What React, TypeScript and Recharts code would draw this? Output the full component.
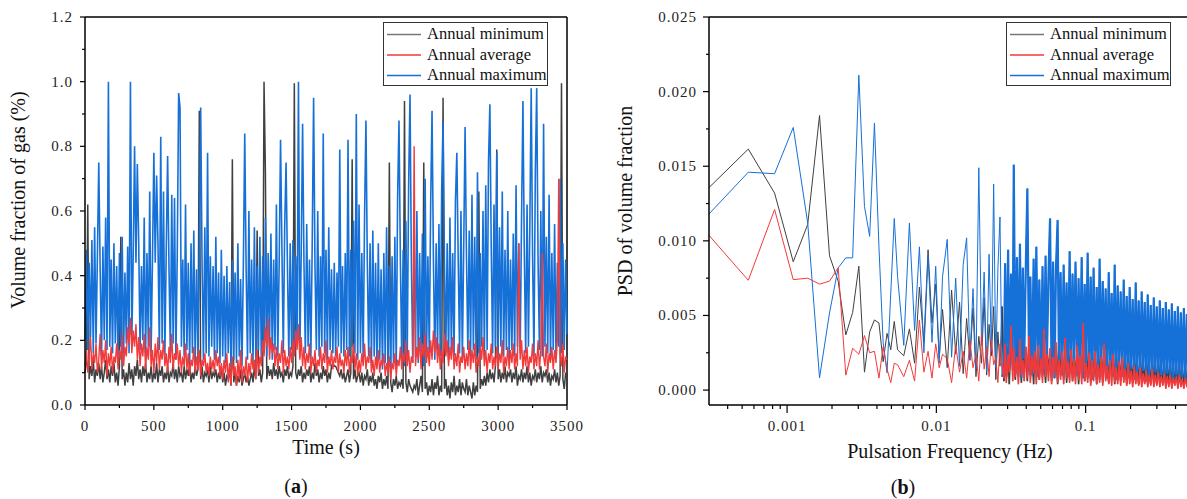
import React from "react";
import { LineChart, Line, XAxis, YAxis, ReferenceLine } from "recharts";

const FONT = '"Liberation Serif", "Times New Roman", serif';
const C_MIN = "#404040";
const C_AVG = "#f23a3a";
const C_MAX = "#1570d8";
const LEGEND_MIN = "#777777";

// ---------- Panel (a): volume fraction of gas vs time ----------
const TIME_STEP_S = 10;

const GAS_MAX = [
  0.2,0.48,0.17,0.44,0.21,0.51,0.16,0.55,0.19,0.46,
  0.75,0.42,0.15,0.49,0.2,0.58,0.17,1.0,0.18,0.45,
  0.16,0.5,0.19,0.43,0.14,0.47,0.18,0.52,0.15,0.41,
  0.19,0.49,0.16,1.0,0.2,0.46,0.8,0.44,0.745,0.5,
  0.17,0.43,0.2,0.58,0.15,0.47,0.18,0.66,0.16,0.45,
  0.78,0.44,0.71,0.5,0.17,0.83,0.19,0.66,0.15,0.48,
  0.77,0.42,0.16,0.65,0.19,0.64,0.14,0.47,0.965,0.92,
  0.18,0.45,0.15,0.62,0.17,0.44,0.13,0.5,0.16,0.54,
  0.13,0.42,0.17,0.47,0.92,0.44,0.14,0.55,0.16,0.78,
  0.15,0.46,0.18,0.43,0.14,0.52,0.16,0.41,0.13,0.48,
  0.15,0.4,0.13,0.43,0.16,0.38,0.12,0.45,0.14,0.41,
  0.13,0.5,0.15,0.39,0.12,0.44,0.84,0.42,0.14,0.6,
  0.16,0.45,0.13,0.55,0.15,0.43,0.17,0.52,0.14,0.46,
  0.16,0.58,0.15,0.47,0.18,0.53,0.14,0.45,0.17,0.62,
  0.15,0.44,0.82,0.48,0.16,0.55,0.75,0.43,0.15,0.5,
  0.17,0.51,0.16,0.46,0.19,1.0,0.15,0.47,0.87,0.44,
  0.16,0.56,0.18,0.45,0.14,0.5,0.95,0.43,0.17,0.6,
  0.15,0.46,0.18,0.84,0.16,0.48,0.14,0.55,0.17,0.42,
  0.16,0.44,0.15,0.41,0.18,0.79,0.16,0.43,0.15,0.47,
  0.17,0.82,0.15,0.48,0.18,0.57,0.16,0.9,0.14,0.62,
  0.16,0.47,0.14,0.58,0.88,0.44,0.15,0.5,0.13,0.54,
  0.15,0.44,0.12,0.5,0.14,0.42,0.11,0.47,0.13,0.55,
  0.12,0.43,0.1,0.46,0.13,0.52,0.11,0.64,0.88,0.45,
  0.14,0.48,0.12,0.57,0.15,0.68,0.96,0.44,0.13,0.5,
  0.15,0.6,0.13,0.47,0.16,0.53,0.12,0.7,0.15,0.46,
  0.16,0.62,0.91,0.45,0.14,0.5,0.17,0.56,0.15,0.67,
  0.875,0.44,0.16,0.5,0.14,0.58,0.17,0.47,0.15,0.63,
  0.78,0.45,0.16,0.6,0.14,0.49,0.86,0.46,0.17,0.54,
  0.15,0.65,0.17,0.52,0.14,0.72,0.16,0.47,0.18,0.6,
  0.15,0.68,0.17,0.75,0.93,0.48,0.16,0.62,0.18,0.78,
  0.16,0.55,0.18,0.66,0.15,0.48,0.17,0.6,0.14,0.45,
  0.17,0.53,0.15,0.68,0.18,0.5,0.16,0.58,0.94,0.47,
  0.16,0.62,0.18,0.55,0.98,0.46,0.15,0.72,0.98,0.44,
  0.17,0.6,0.15,0.87,0.18,0.52,0.16,0.65,0.14,0.47,
  0.17,0.56,0.15,0.44,0.18,0.7,0.16,0.5,0.17,0.45,
  0.22,
];

const GAS_AVG = [
  0.12,0.17,0.1,0.15,0.21,0.11,0.16,0.13,0.19,0.1,
  0.14,0.22,0.11,0.17,0.13,0.2,0.09,0.16,0.12,0.18,
  0.1,0.15,0.13,0.19,0.11,0.17,0.14,0.22,0.12,0.18,
  0.15,0.24,0.19,0.27,0.16,0.23,0.18,0.25,0.14,0.21,
  0.12,0.19,0.15,0.22,0.11,0.18,0.14,0.24,0.12,0.17,
  0.1,0.19,0.13,0.21,0.11,0.17,0.14,0.2,0.12,0.16,
  0.1,0.18,0.13,0.22,0.11,0.16,0.14,0.19,0.12,0.17,
  0.1,0.15,0.12,0.19,0.11,0.16,0.09,0.14,0.12,0.18,
  0.1,0.15,0.11,0.17,0.09,0.14,0.12,0.16,0.1,0.13,
  0.09,0.15,0.11,0.14,0.1,0.17,0.12,0.15,0.09,0.13,
  0.08,0.14,0.1,0.16,0.07,0.13,0.06,0.15,0.09,0.12,
  0.06,0.14,0.08,0.17,0.07,0.12,0.09,0.15,0.07,0.13,
  0.09,0.16,0.11,0.14,0.08,0.17,0.1,0.15,0.12,0.2,
  0.15,0.24,0.18,0.27,0.14,0.21,0.16,0.19,0.12,0.18,
  0.11,0.16,0.13,0.2,0.1,0.17,0.12,0.15,0.11,0.18,
  0.13,0.2,0.15,0.23,0.17,0.25,0.14,0.21,0.12,0.18,
  0.11,0.16,0.13,0.19,0.1,0.15,0.12,0.17,0.1,0.14,
  0.12,0.18,0.11,0.16,0.13,0.2,0.1,0.15,0.12,0.17,
  0.11,0.15,0.13,0.18,0.1,0.16,0.12,0.14,0.1,0.17,
  0.12,0.18,0.1,0.15,0.13,0.19,0.11,0.16,0.09,0.14,
  0.1,0.16,0.12,0.19,0.11,0.15,0.13,0.18,0.1,0.14,
  0.09,0.15,0.11,0.17,0.1,0.14,0.12,0.16,0.09,0.13,
  0.1,0.15,0.08,0.13,0.11,0.16,0.09,0.14,0.12,0.18,
  0.11,0.16,0.13,0.2,0.12,0.17,0.1,0.15,0.13,0.8,
  0.12,0.18,0.14,0.21,0.11,0.19,0.15,0.22,0.13,0.18,
  0.12,0.2,0.14,0.23,0.16,0.21,0.13,0.19,0.11,0.17,
  0.13,0.22,0.15,0.2,0.12,0.18,0.14,0.21,0.11,0.16,
  0.12,0.19,0.1,0.15,0.13,0.18,0.11,0.16,0.12,0.2,
  0.11,0.17,0.13,0.19,0.1,0.15,0.12,0.18,0.14,0.21,
  0.12,0.17,0.1,0.16,0.13,0.19,0.11,0.15,0.12,0.18,
  0.11,0.16,0.13,0.2,0.1,0.15,0.12,0.18,0.11,0.17,
  0.13,0.19,0.11,0.16,0.12,0.5,0.14,0.2,0.11,0.17,
  0.12,0.18,0.1,0.15,0.13,0.19,0.11,0.16,0.12,0.2,
  0.11,0.17,0.47,0.15,0.12,0.19,0.1,0.16,0.13,0.18,
  0.11,0.17,0.13,0.2,0.7,0.16,0.12,0.19,0.1,0.15,
  0.14,
];

const GAS_MIN = [
  0.1,0.13,0.62,0.08,0.12,0.09,0.14,0.07,0.11,0.09,
  0.13,0.08,0.12,0.07,0.1,0.14,0.08,0.11,0.07,0.12,
  0.09,0.13,0.07,0.1,0.06,0.12,0.52,0.08,0.11,0.06,
  0.1,0.07,0.13,0.08,0.11,0.06,0.12,0.09,0.14,0.08,
  0.11,0.07,0.12,0.09,0.13,0.07,0.1,0.08,0.12,0.07,
  0.1,0.08,0.13,0.07,0.11,0.09,0.12,0.07,0.1,0.08,
  0.12,0.07,0.1,0.09,0.13,0.08,0.11,0.07,0.12,0.09,
  0.1,0.07,0.12,0.08,0.11,0.09,0.13,0.07,0.1,0.08,
  0.12,0.09,0.11,0.91,0.08,0.12,0.07,0.1,0.09,0.11,
  0.07,0.12,0.08,0.1,0.09,0.11,0.07,0.1,0.08,0.12,
  0.07,0.1,0.06,0.09,0.08,0.11,0.06,0.76,0.07,0.1,
  0.06,0.09,0.07,0.11,0.06,0.08,0.1,0.07,0.09,0.06,
  0.08,0.1,0.07,0.12,0.08,0.54,0.09,0.11,0.07,0.1,
  1.0,0.72,0.08,0.12,0.09,0.11,0.08,0.13,0.09,0.11,
  0.08,0.12,0.09,0.1,0.07,0.11,0.09,0.12,0.08,0.1,
  0.09,0.12,0.995,0.1,0.08,0.11,0.09,0.12,0.07,0.1,
  0.08,0.11,0.09,0.12,0.07,0.1,0.08,0.13,0.09,0.11,
  0.07,0.1,0.08,0.12,0.09,0.11,0.07,0.1,0.08,0.12,
  0.13,0.12,0.12,0.11,0.1,0.09,0.11,0.08,0.1,0.07,
  0.09,0.11,0.07,0.1,0.76,0.08,0.11,0.07,0.09,0.1,
  0.07,0.1,0.06,0.09,0.08,0.11,0.06,0.09,0.07,0.1,
  0.06,0.08,0.05,0.09,0.07,0.1,0.05,0.08,0.06,0.09,
  0.05,0.75,0.07,0.04,0.08,0.06,0.09,0.05,0.07,0.06,
  0.08,0.05,0.94,0.07,0.04,0.08,0.06,0.05,0.04,0.06,
  0.05,0.08,0.03,0.06,0.09,0.04,0.75,0.05,0.07,0.03,
  0.06,0.04,0.08,0.03,0.07,0.05,0.09,0.03,0.06,0.04,
  0.95,0.05,0.08,0.03,0.06,0.02,0.07,0.04,0.09,0.03,
  0.06,0.04,0.08,0.03,0.07,0.05,0.04,0.08,0.03,0.06,
  0.04,0.02,0.07,0.03,0.06,0.04,0.66,0.05,0.08,0.06,
  0.09,0.06,0.1,0.07,0.11,0.08,0.1,0.07,0.12,0.79,
  0.08,0.11,0.07,0.1,0.08,0.12,0.07,0.1,0.09,0.11,
  0.07,0.1,0.08,0.12,0.06,0.09,0.08,0.11,0.07,0.1,
  0.08,0.12,0.07,0.1,0.06,0.09,0.08,0.11,0.07,0.1,
  0.08,0.12,0.07,0.1,0.09,0.11,0.07,0.1,0.06,0.09,
  0.08,0.11,0.07,0.1,0.06,0.09,0.995,0.08,0.05,0.1,
  0.08,
];

const TIME_TICKS = [0,250,500,750,1000,1250,1500,1750,2000,2250,2500,2750,3000,3250,3500];
const GAS_TICKS = [0,0.1,0.2,0.3,0.4,0.5,0.6,0.7,0.8,0.9,1.0,1.1,1.2];

// ---------- Panel (b): PSD vs pulsation frequency ----------
const FREQ_STEP_HZ = 0.000275;
const DENSE_FROM_HARMONIC = 100;
const HARMONICS = [
  1,2,3,4,5,6,7,8,9,10,11,12,13,14,15,16,17,18,19,20,
  22,24,26,28,30,32,34,36,38,40,
  43,46,49,52,55,58,61,64,67,70,73,76,79,82,85,88,91,94,97,100,
  103,105,107,110,112,115,118,120,123,126,
  129,132,135,138,141,145,148,152,155,159,
  163,166,170,174,178,183,187,191,196,200,
  205,210,215,220,225,230,236,241,247,253,
  259,265,271,277,284,290,297,304,311,319,
  326,334,342,350,358,366,375,384,393,402,
  411,421,431,441,451,462,473,484,495,507,
  519,531,543,556,569,582,596,610,624,639,
  654,669,685,701,717,734,751,769,787,805,
  824,844,863,884,904,926,947,970,992,1016,
  1040,1064,1089,1115,1141,1168,1195,1223,1252,1281,
  1311,1342,1374,1406,1439,1473,1508,1543,1579,1616,
  1654,1693,1733,1774,1816,
];

// PSD values in units of 1e-3
const PSD_MAX_E3 = [
  11.4,14.6,14.5,17.6,11.2,0.82,5.17,8.19,8.86,8.86,21.1,12.3,10.3,17.9,9.6,3.2,1.16,6.5,11.5,7.6,
  3.0,11.2,4.0,9.6,2.5,9.0,3.2,8.3,1.8,7.6,
  10.1,2.2,7.5,1.6,8.4,10.2,2.0,6.8,1.4,14.9,3.0,7.9,1.2,9.1,2.6,13.8,1.5,8.2,11.6,0.9,
  1.2,8.5,0.9,9.4,1.5,7.8,2.0,15.1,1.1,8.9,
  1.6,9.8,0.8,8.2,2.1,9.1,13.5,1.3,7.6,1.0,
  8.8,1.9,9.6,0.9,7.4,1.4,8.3,1.1,9.0,2.0,
  7.7,11.5,1.2,8.6,0.8,8.1,11.4,1.5,7.9,1.0,
  8.4,1.6,7.2,0.9,9.3,1.3,7.8,2.0,8.6,1.0,
  7.5,1.4,8.9,0.8,7.1,1.7,9.2,1.1,7.6,0.7,
  8.2,1.5,6.9,0.9,8.8,1.2,7.3,1.8,6.8,0.8,
  7.9,1.3,6.5,1.0,8.4,0.7,7.0,1.6,6.6,0.9,
  7.4,1.2,6.3,0.8,6.9,1.4,6.1,0.7,7.2,1.1,
  6.0,0.9,6.6,1.3,5.9,0.6,6.4,1.0,5.7,0.8,
  6.2,1.2,5.6,0.7,6.0,1.0,5.5,0.6,5.9,1.1,
  5.4,0.8,5.8,0.6,5.3,1.0,5.6,0.5,5.2,0.9,
  5.5,0.7,5.1,0.6,5.4,
];

const PSD_MIN_E3 = [
  13.2,16.15,13.2,8.6,11.1,18.4,9.0,7.3,3.7,5.2,8.3,1.2,3.9,4.7,4.5,1.9,3.8,2.7,4.6,2.7,
  2.3,4.1,1.8,6.9,3.2,9.4,4.5,7.1,2.1,5.4,
  1.5,6.7,2.4,5.9,1.1,4.8,2.0,5.5,0.9,3.6,1.8,6.2,1.0,4.4,2.3,5.6,0.7,3.9,1.6,5.6,
  0.6,3.8,1.0,2.9,0.4,4.2,1.3,2.5,0.7,3.6,
  0.9,2.7,0.5,3.9,1.2,2.4,0.6,3.3,1.0,2.8,
  0.4,3.5,1.1,2.2,0.7,3.8,0.9,2.6,0.5,3.1,
  1.2,2.4,0.6,3.4,0.8,2.9,0.4,3.7,1.0,2.3,
  0.7,3.2,0.5,2.6,1.1,3.5,0.6,2.2,0.9,3.0,
  0.4,2.8,1.0,2.3,0.6,3.3,0.8,2.5,0.5,2.9,
  0.9,2.2,0.4,3.1,0.7,2.6,0.5,2.9,0.8,2.1,
  0.5,2.7,0.9,2.3,0.4,2.8,0.7,2.0,0.6,2.5,
  0.8,2.2,0.4,2.6,0.7,1.9,0.5,2.4,0.9,2.0,
  0.4,2.3,0.7,1.8,0.5,2.2,0.8,1.7,0.4,2.1,
  0.6,1.9,0.4,2.0,0.7,1.6,0.5,1.9,0.3,1.7,
  0.6,1.8,0.4,1.5,0.5,1.7,0.3,1.6,0.6,1.4,
  0.4,1.5,0.5,1.3,0.4,
];

const PSD_AVG_E3 = [
  10.8,7.36,12.1,7.4,7.5,7.1,7.3,8.2,1.0,2.8,2.4,3.65,2.5,2.6,0.8,2.9,1.4,0.5,1.8,1.7,
  0.9,2.0,0.6,4.7,1.2,2.6,0.8,3.1,1.5,2.4,
  2.1,0.5,3.0,1.2,2.6,0.8,3.3,1.5,2.4,0.6,3.8,1.4,2.9,0.9,3.4,1.7,2.2,0.5,3.1,1.8,
  0.8,3.1,0.5,2.4,1.2,4.3,0.6,2.8,0.9,2.2,
  0.4,3.4,1.0,2.0,0.6,2.9,0.8,3.6,0.5,2.3,
  1.1,2.6,0.4,3.0,0.7,2.1,0.5,4.1,0.9,2.4,
  0.6,2.8,0.4,2.2,1.0,3.2,0.5,2.0,0.7,2.6,
  0.4,3.5,0.8,1.9,0.5,2.7,0.6,2.1,0.4,3.0,
  0.7,2.3,0.4,4.5,0.6,1.8,0.5,2.5,0.3,2.0,
  0.6,2.6,0.4,1.7,0.5,2.2,0.3,3.1,0.6,1.6,
  0.4,2.0,0.3,2.4,0.5,1.5,0.4,1.9,0.3,2.2,
  0.5,1.4,0.3,1.8,0.4,1.3,0.2,1.6,0.4,1.2,
  0.3,1.5,0.2,1.1,0.4,1.3,0.2,1.0,0.3,1.4,
  0.2,1.0,0.3,1.2,0.2,0.9,0.3,1.1,0.1,0.9,
  0.2,1.0,0.1,0.8,0.3,0.9,0.1,1.0,0.2,0.7,
  0.1,0.8,0.2,0.6,0.1,
];

const FREQ_TICKS = [
  0.0004,0.0005,0.0006,0.0007,0.0008,0.0009,0.001,
  0.002,0.003,0.004,0.005,0.006,0.007,0.008,0.009,0.01,
  0.02,0.03,0.04,0.05,0.06,0.07,0.08,0.09,0.1,
  0.2,0.3,0.4,0.5,
];
const PSD_TICKS = [0,0.0025,0.005,0.0075,0.01,0.0125,0.015,0.0175,0.02,0.0225,0.025];

const LEGEND_ITEMS = [
  { name: "Annual minimum", color: LEGEND_MIN },
  { name: "Annual average", color: C_AVG },
  { name: "Annual maximum", color: C_MAX },
];

// ---------- tables built from the arrays ----------
const gasRows = GAS_MAX.map((_, i) => ({
  t: i * TIME_STEP_S,
  min: GAS_MIN[i],
  avg: GAS_AVG[i],
  max: GAS_MAX[i],
}));

const psdRows = HARMONICS.map((k, i) => {
  const dense = k >= DENSE_FROM_HARMONIC;
  return {
    f: k * FREQ_STEP_HZ,
    min: PSD_MIN_E3[i] / 1000,
    avg: PSD_AVG_E3[i] / 1000,
    max: PSD_MAX_E3[i] / 1000,
    minDense: dense ? PSD_MIN_E3[i] / 1000 : null,
    avgDense: dense ? PSD_AVG_E3[i] / 1000 : null,
    maxDense: dense ? PSD_MAX_E3[i] / 1000 : null,
  };
});

// ---------- ticks ----------
const tickTextStyle: React.CSSProperties = {
  fontFamily: FONT,
  fontSize: 15,
  letterSpacing: 1,
};

function TimeTick(props: any) {
  const { x, y, payload } = props;
  const v = payload.value;
  const major = v % 500 === 0;
  return (
    <g>
      <line x1={x} y1={y} x2={x} y2={y + (major ? 5 : 3)} stroke="#000" strokeWidth={1.2} />
      {major && (
        <text x={x} y={y + 26} textAnchor="middle" fill="#222" fontFamily={FONT} style={tickTextStyle}>
          {v}
        </text>
      )}
    </g>
  );
}

function GasTick(props: any) {
  const { x, y, payload } = props;
  const v = payload.value;
  const major = Math.round(v * 10) % 2 === 0;
  return (
    <g>
      <line x1={x - (major ? 5 : 3)} y1={y} x2={x} y2={y} stroke="#000" strokeWidth={1.2} />
      {major && (
        <text x={x - 12} y={y + 5} textAnchor="end" fill="#222" fontFamily={FONT} style={tickTextStyle}>
          {v.toFixed(1)}
        </text>
      )}
    </g>
  );
}

function PsdTick(props: any) {
  const { x, y, payload } = props;
  const v = payload.value;
  const major = Math.round(v * 10000) % 50 === 0;
  return (
    <g>
      <line x1={x - (major ? 6 : 3)} y1={y} x2={x} y2={y} stroke="#000" strokeWidth={1.2} />
      {major && (
        <text x={x - 12} y={y + 5} textAnchor="end" fill="#222" fontFamily={FONT} style={tickTextStyle}>
          {v.toFixed(3)}
        </text>
      )}
    </g>
  );
}

function FreqTick(props: any) {
  const { x, y, payload } = props;
  const v = payload.value;
  const lg = Math.log10(v);
  const major = Math.abs(lg - Math.round(lg)) < 1e-6;
  return (
    <g>
      <line x1={x} y1={y} x2={x} y2={y + (major ? 8 : 4)} stroke="#000" strokeWidth={1.2} />
      {major && (
        <text x={x} y={y + 26} textAnchor="middle" fill="#222" fontFamily={FONT} style={tickTextStyle}>
          {String(v)}
        </text>
      )}
    </g>
  );
}

// ---------- html text helpers ----------
function VTitle({ cx, cy, text }: { cx: number; cy: number; text: string }) {
  return (
    <div
      style={{
        position: "absolute",
        left: cx - 160,
        top: cy - 12,
        width: 320,
        height: 24,
        lineHeight: "24px",
        textAlign: "center",
        transform: "rotate(-90deg)",
        fontFamily: FONT,
        fontSize: 20,
        color: "#111",
        whiteSpace: "nowrap",
      }}
    >
      {text}
    </div>
  );
}

function HTitle({ cx, cy, children }: { cx: number; cy: number; children: React.ReactNode }) {
  return (
    <div
      style={{
        position: "absolute",
        left: cx - 160,
        top: cy - 12,
        width: 320,
        height: 24,
        lineHeight: "24px",
        textAlign: "center",
        fontFamily: FONT,
        fontSize: 20,
        color: "#111",
        whiteSpace: "nowrap",
      }}
    >
      {children}
    </div>
  );
}

function LegendBox({ left }: { left: number }) {
  return (
    <div
      style={{
        position: "absolute",
        left,
        top: 22,
        width: 165,
        height: 64,
        boxSizing: "border-box",
        border: "1px solid #333",
        background: "#fff",
        fontFamily: FONT,
        fontSize: 16.5,
        color: "#111",
      }}
    >
      <svg width={40} height={62} style={{ position: "absolute", left: 0, top: 0 }}>
        {LEGEND_ITEMS.map((it, i) => (
          <line
            key={it.name}
            x1={3}
            x2={37}
            y1={11.5 + i * 20.5}
            y2={11.5 + i * 20.5}
            stroke={it.color}
            strokeWidth={1.3}
          />
        ))}
      </svg>
      {LEGEND_ITEMS.map((it, i) => (
        <div
          key={it.name}
          style={{
            position: "absolute",
            left: 43,
            top: 1 + i * 20.5,
            lineHeight: "20px",
            whiteSpace: "nowrap",
          }}
        >
          {it.name}
        </div>
      ))}
    </div>
  );
}

const axisLine = { stroke: "#000", strokeWidth: 1.5 };

export default function App() {
  return (
    <div
      style={{
        position: "absolute",
        left: 0,
        top: 0,
        width: 1187,
        height: 499,
        overflow: "hidden",
        background: "#fff",
      }}
    >
      {/* Panel (a) */}
      <div style={{ position: "absolute", left: 0, top: 0 }}>
        <LineChart
          width={600}
          height={499}
          data={gasRows}
          margin={{ top: 17, right: 33, bottom: 0, left: 0 }}
        >
          <XAxis
            dataKey="t"
            type="number"
            domain={[0, 3500]}
            ticks={TIME_TICKS}
            interval={0}
            height={94}
            tickSize={0}
            tickMargin={0}
            tickLine={false}
            axisLine={axisLine}
            tick={<TimeTick />}
          />
          <YAxis
            type="number"
            domain={[0, 1.2]}
            ticks={GAS_TICKS}
            interval={0}
            width={85}
            tickSize={0}
            tickMargin={0}
            tickLine={false}
            axisLine={axisLine}
            tick={<GasTick />}
          />
          <ReferenceLine y={1.2} stroke="#000" strokeWidth={1.5} />
          <ReferenceLine x={3500} stroke="#000" strokeWidth={1.5} />
          <Line type="linear" dataKey="min" stroke={C_MIN} strokeWidth={1.5} dot={false} isAnimationActive={false} />
          <Line type="linear" dataKey="max" stroke={C_MAX} strokeWidth={1.6} dot={false} isAnimationActive={false} />
          <Line type="linear" dataKey="avg" stroke={C_AVG} strokeWidth={1.4} dot={false} isAnimationActive={false} />
        </LineChart>
      </div>

      {/* Panel (b) */}
      <div style={{ position: "absolute", left: 624, top: 0 }}>
        <LineChart
          width={566}
          height={499}
          data={psdRows}
          margin={{ top: 17, right: 0, bottom: 0, left: 0 }}
        >
          <XAxis
            dataKey="f"
            type="number"
            scale="log"
            domain={[0.0003, 0.5]}
            allowDataOverflow
            ticks={FREQ_TICKS}
            interval={0}
            height={94}
            tickSize={0}
            tickMargin={0}
            tickLine={false}
            axisLine={axisLine}
            tick={<FreqTick />}
          />
          <YAxis
            type="number"
            domain={[-0.001, 0.025]}
            allowDataOverflow
            ticks={PSD_TICKS}
            interval={0}
            width={85}
            tickSize={0}
            tickMargin={0}
            tickLine={false}
            axisLine={axisLine}
            tick={<PsdTick />}
          />
          <ReferenceLine y={0.025} stroke="#000" strokeWidth={1.5} />
          <Line type="linear" dataKey="min" stroke={C_MIN} strokeWidth={1} dot={false} isAnimationActive={false} />
          <Line type="linear" dataKey="minDense" stroke={C_MIN} strokeWidth={1.6} dot={false} isAnimationActive={false} />
          <Line type="linear" dataKey="max" stroke={C_MAX} strokeWidth={1} dot={false} isAnimationActive={false} />
          <Line type="linear" dataKey="maxDense" stroke={C_MAX} strokeWidth={2.2} dot={false} isAnimationActive={false} />
          <Line type="linear" dataKey="avg" stroke={C_AVG} strokeWidth={1} dot={false} isAnimationActive={false} />
          <Line type="linear" dataKey="avgDense" stroke={C_AVG} strokeWidth={1.5} dot={false} isAnimationActive={false} />
        </LineChart>
      </div>

      <LegendBox left={383} />
      <LegendBox left={1006} />

      <VTitle cx={18} cy={200} text="Volume fraction of gas (%)" />
      <VTitle cx={625} cy={201} text="PSD of volume fraction" />
      <HTitle cx={326} cy={447}>Time (s)</HTitle>
      <HTitle cx={950} cy={451}>Pulsation Frequency (Hz)</HTitle>
      <HTitle cx={296} cy={486}>
        (<b>a</b>)
      </HTitle>
      <HTitle cx={903} cy={487}>
        (<b>b</b>)
      </HTitle>
    </div>
  );
}
